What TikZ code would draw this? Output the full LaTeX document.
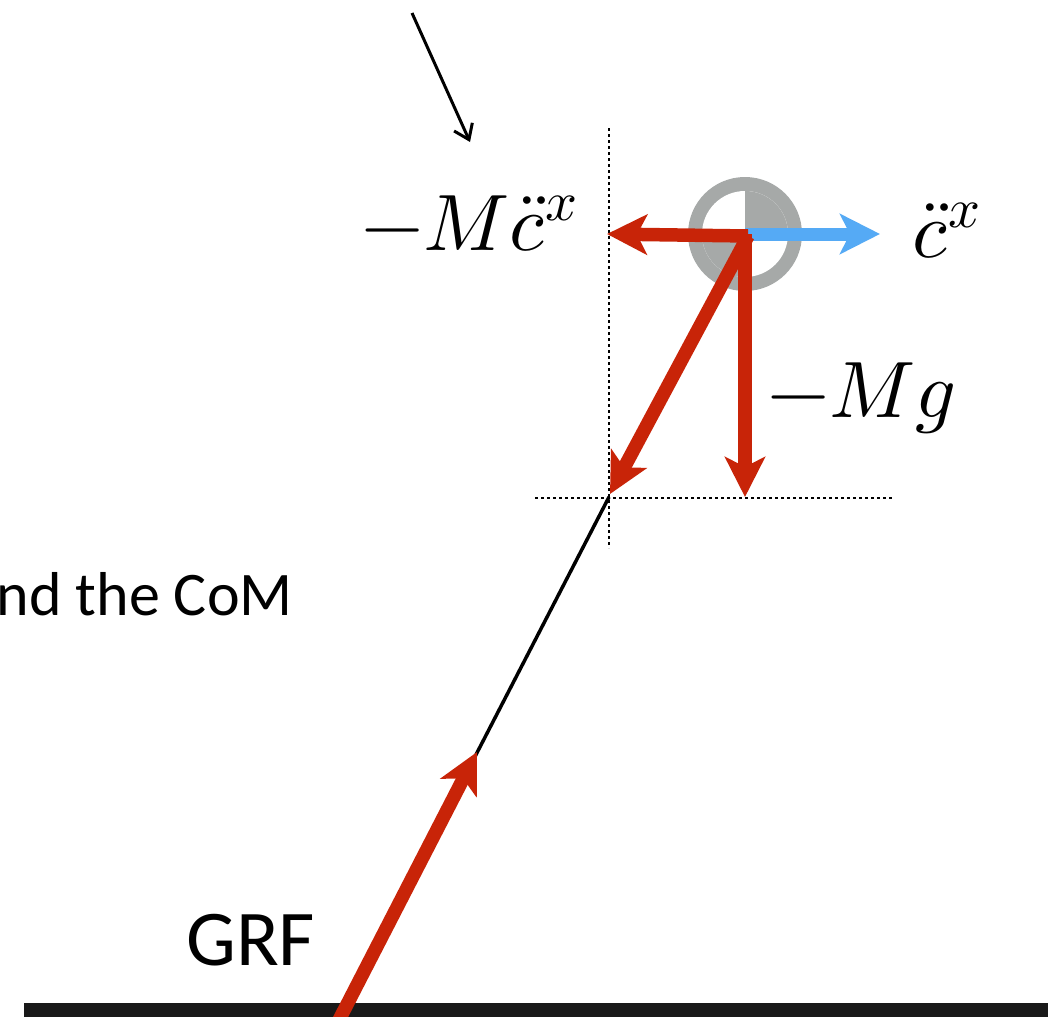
\documentclass[tikz,border=0pt]{standalone}
\usepackage{fontspec}
\usepackage{unicode-math}
\setmainfont{Carlito}
\setmathfont{Latin Modern Math}
\usetikzlibrary{arrows.meta}
\definecolor{fred}{RGB}{200,36,8}
\definecolor{fblue}{RGB}{85,170,245}
\definecolor{cgray}{RGB}{166,169,168}
\begin{document}
\begin{tikzpicture}[x=1pt,y=-1pt,
  redarrow/.style={draw=fred,line width=13.5pt,-{Stealth[length=40pt,width=40pt,inset=10pt]}},
  bluearrow/.style={draw=fblue,line width=13pt,-{Stealth[length=40pt,width=40pt,inset=10pt]}},
  dotline/.style={line width=2.5pt,dash pattern=on 2.5pt off 3.5pt},
  mathlbl/.style={inner sep=0pt,anchor=base west,font=\fontsize{80}{92}\selectfont},
  txtlbl/.style={inner sep=0pt,font=\fontsize{79}{90}\selectfont}]
\useasboundingbox (0,0) rectangle (1052,1017);
\fill[white] (0,0) rectangle (1052,1017);
% coordinates
\coordinate (com) at (745,234);
\coordinate (comr) at (748,236);
\coordinate (ltip) at (607,234);
\coordinate (rtip) at (880,234);
\coordinate (dtip) at (745,497);
\coordinate (diag) at (610,494);
\coordinate (foot) at (609,497);
\coordinate (grfbase) at (338,1022);
\coordinate (grftip) at (477,752);
\coordinate (vtop) at (609,128);
\coordinate (vbot) at (609,548);
\coordinate (hl) at (535,498);
\coordinate (hr) at (893,498);
\coordinate (ptr0) at (412,13);
\coordinate (ptr1) at (470,142);
% ground
\fill[black!90] (24,1003) rectangle (1048,1017);
% dotted guides
\draw[dotline] (vtop) -- (vbot);
\draw[dotline] (hl) -- (hr);
% pointer arrow
\draw[line width=3pt,-{Straight Barb[length=14pt,width=20pt]}] (ptr0) -- (ptr1);
% CoM symbol
\fill[cgray] (com) circle (57);
\fill[white] (com) circle (43);
\fill[cgray] (com) -- ++(43,0) arc[start angle=0,end angle=-90,radius=43] -- cycle;
\fill[cgray] (com) -- ++(0,43) arc[start angle=90,end angle=180,radius=43] -- cycle;
% leg
\draw[line width=3.5pt] (foot) -- (grfbase);
% forces
\draw[bluearrow] (com) -- (rtip);
\draw[redarrow] (comr) -- (diag);
\draw[redarrow] (com) -- (dtip);
\draw[redarrow] (comr) -- (ltip);
\draw[redarrow] (grfbase) -- (grftip);
% labels
\node[mathlbl] (lmcx) at (361,250) {$-M\ddot{c}^x$};
\node[mathlbl] (lcx) at (912,257) {$\ddot{c}^x$};
\node[mathlbl] (lmg) at (767,417) {$-Mg$};
\node[txtlbl,anchor=base west] (lgrf) at (186,965) {GRF};
\node[inner sep=0pt,anchor=base east,font=\fontsize{62}{70}\selectfont] (lcom) at (293,615) {nd the CoM};
\end{tikzpicture}
\end{document}
